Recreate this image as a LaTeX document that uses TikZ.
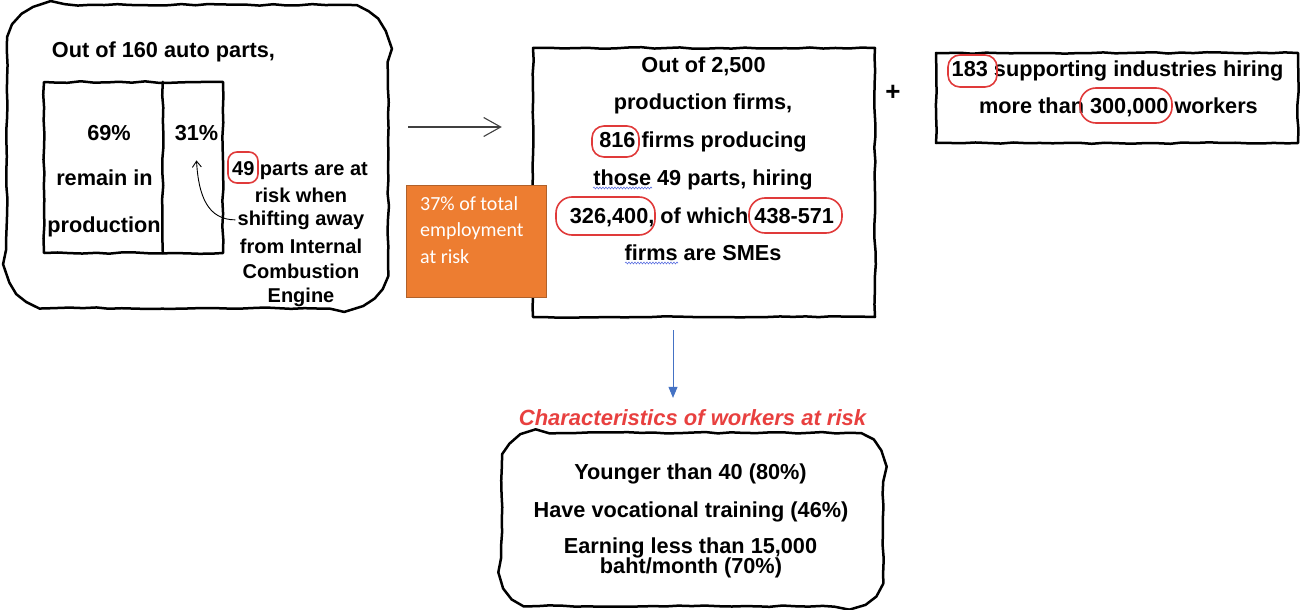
\documentclass[tikz,border=0pt]{standalone}
\usepackage{fontspec}
\setmainfont{Liberation Sans}
\newfontfamily\calibri{Carlito}
\usepackage{xcolor}
\usetikzlibrary{positioning, arrows.meta, decorations.pathmorphing}

\definecolor{ovalred}{HTML}{E03A3A}
\definecolor{titlered}{HTML}{E8403F}
\definecolor{riskorange}{HTML}{ED7D31}
\definecolor{riskedge}{HTML}{B0612A}
\definecolor{arrowblue}{HTML}{4472C4}
\definecolor{spellblue}{HTML}{5B6FE0}

\pgfmathsetseed{3}
\tikzset{
  sketch/.style={postaction={draw, line width=2.5pt, line join=round, line cap=round, sharp corners, decorate, decoration={random steps, segment length=13pt, amplitude=0.8pt}}},
  bold/.style={font=\bfseries\fontsize{21.7}{25}\selectfont, inner sep=0pt, anchor=base},
  note/.style={font=\bfseries\fontsize{20}{24}\selectfont, inner sep=0pt, anchor=base},
  oval/.style={draw=ovalred, line width=1.6pt, rounded corners=12pt, inner sep=0pt},
  spell/.style={spellblue, line width=0.6pt, decorate, decoration={snake, amplitude=0.9pt, segment length=3pt}},
}

\begin{document}
\begin{tikzpicture}[x=1pt, y=-1pt, >={Straight Barb[length=17pt,width=19pt]}]
  \useasboundingbox (0,0) rectangle (1301,610);

  % Frames
  \node[minimum width=381pt, minimum height=303pt] (partsbox) at (197.5,156.5) {};
  \path[sketch, rounded corners=45pt] (partsbox.west) |- (partsbox.north east) |- (partsbox.south west) -- (partsbox.west);
  \node[sketch, minimum width=179pt, minimum height=171pt] (partsgrid) at (133.5,167.5) {};
  \path[sketch] ([xshift=119pt]partsgrid.north west) -- ([xshift=119pt]partsgrid.south west);
  \node[sketch, minimum width=342pt, minimum height=269pt] (firmsbox) at (704,182.5) {};
  \node[fill=riskorange, draw=riskedge, line width=0.6pt, minimum width=140pt, minimum height=112pt] (riskbox) at (476,241) {};
  \node[sketch, minimum width=362pt, minimum height=90pt] (supportbox) at (1117,98) {};
  \node[minimum width=381pt, minimum height=173pt] (workerbox) at (692.5,519.5) {};
  \path[sketch, rounded corners=35pt] (workerbox.west) |- (workerbox.north east) |- (workerbox.south west) -- (workerbox.west);

  % Parts box
  \node[bold] (partstitle) at (163.5,58) {Out of 160 auto parts,};
  \node[bold] (pct69) at (109,140) {69\%};
  \node[bold] (remain) at (104.5,185) {remain in};
  \node[bold] (production) at (104,232) {production};
  \node[bold] (pct31) at (196.5,140) {31\%};
  \node[note] (atrisk) at (300,175) {49 parts are at};
  \node[note] (riskwhen) at (301,202) {risk when};
  \node[note] (shifting) at (301,225) {shifting away};
  \node[note] (fromice) at (301,253) {from Internal};
  \node[note] (combustion) at (301,278) {Combustion};
  \node[note] (engine) at (301,302) {Engine};
  \node[oval, rounded corners=9pt, minimum width=30pt, minimum height=31pt] (oval49) at (243,167.5) {};

  % Firms box
  \node[bold] (firms1) at (703.5,73) {Out of 2,500};
  \node[bold] (firms2) at (703,110) {production firms,};
  \node[bold] (firms3) at (703,147) {816 firms producing};
  \node[bold] (firms4) at (703,185) {those 49 parts, hiring};
  \node[bold] (firms5) at (702,223) {326,400, of which 438-571};
  \node[bold] (firms6) at (703,260) {firms are SMEs};
  \node[oval, minimum width=47pt, minimum height=31pt] (oval816) at (615.5,141.5) {};
  \node[oval, rounded corners=16pt, minimum width=99pt, minimum height=38pt] (oval326) at (605.5,216) {};
  \node[oval, rounded corners=16pt, minimum width=93pt, minimum height=35pt] (oval438) at (795.5,215.5) {};
  \draw[spell] (593,188) -- (652,188);
  \draw[spell] (625,263) -- (678,263);

  % Orange note
  \node[font=\calibri\fontsize{20}{26.5}\selectfont, text=white, align=left, inner sep=0pt, anchor=north west] (risktext) at (420,196) {37\% of total\\employment\\at risk};

  % Supporting industries
  \node[font=\bfseries\fontsize{26}{26}\selectfont, inner sep=0pt] (plus) at (893,93) {+};
  \node[bold] (support1) at (1117.5,77) {183 supporting industries hiring};
  \node[bold] (support2) at (1118.5,113) {more than 300,000 workers};
  \node[oval, minimum width=49pt, minimum height=32pt] (oval183) at (972.5,71) {};
  \node[oval, rounded corners=16pt, minimum width=92pt, minimum height=35pt] (oval300) at (1126,105.5) {};

  % Workers box
  \node[bold, font=\bfseries\itshape\fontsize{22}{26}\selectfont, text=titlered] (risktitle) at (692.5,425) {Characteristics of workers at risk};
  \node[bold] (worker1) at (690.5,479) {Younger than 40 (80\%)};
  \node[bold] (worker2) at (691,517) {Have vocational training (46\%)};
  \node[bold] (worker3) at (690.5,553) {Earning less than 15,000};
  \node[bold] (worker4) at (691,573) {baht/month (70\%)};

  % Arrows
  \draw[->, line width=1.1pt, black!75] ([shift={(20,-29.5)}]partsbox.east) -- ([shift={(-31,-55.5)}]firmsbox.west);
  \draw[-{Straight Barb[length=6pt,width=9pt]}, line width=0.9pt] ([xshift=-2pt]shifting.west) .. controls +(-28,0) and +(2,35) .. ([yshift=-20pt]pct31.south);
  \draw[-{Triangle[length=11pt,width=9pt]}, arrowblue, line width=0.9pt] ([shift={(-31,13)}]firmsbox.south) -- ([shift={(-19.5,-11)}]risktitle.north);
\end{tikzpicture}
\end{document}
